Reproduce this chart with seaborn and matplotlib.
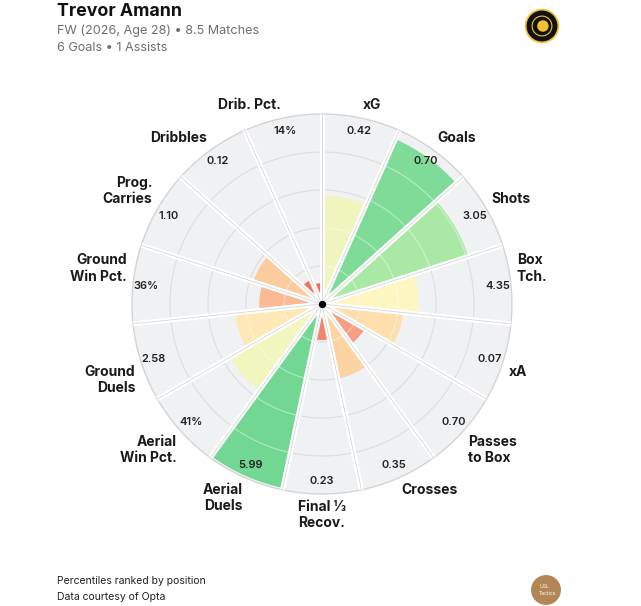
import numpy as np
import matplotlib
matplotlib.use("Agg")
import matplotlib.pyplot as plt
import seaborn as sns
from matplotlib.patches import Circle

# stats, clockwise from the top
labels = ["xG", "Goals", "Shots", "Box\nTch.", "xA", "Passes\nto Box", "Crosses",
          "Final ⅓\nRecov.", "Aerial\nDuels", "Aerial\nWin Pct.", "Ground\nDuels",
          "Ground\nWin Pct.", "Prog.\nCarries", "Dribbles", "Drib. Pct."]
values = ["0.42", "0.70", "3.05", "4.35", "0.07", "0.70", "0.35",
          "0.23", "5.99", "41%", "2.58", "36%", "1.10", "0.12", "14%"]
percentiles = [57, 95, 81, 51, 43, 26, 40, 19, 99, 56, 46, 33, 38, 14, 11]

player = "Trevor Amann"
subtitle1 = "FW (2026, Age 28) • 8.5 Matches"
subtitle2 = "6 Goals • 1 Assists"
footer1 = "Percentiles ranked by position"
footer2 = "Data courtesy of Opta"

sns.set_theme(style="white")
plt.rcParams["font.family"] = ["Inter", "DejaVu Sans"]

cmap = sns.blend_palette(["#e8473c", "#ef6b5b", "#f4876f", "#f9b08f", "#fdd3a3",
                          "#fff6c2", "#e8f5bb", "#c8efb2", "#aee9a6", "#8fe09f", "#6ed692"],
                         as_cmap=True)

n = len(labels)
step = 2 * np.pi / n
centers = np.arange(n) * step + step / 2
bounds = np.arange(n) * step

fig = plt.figure(figsize=(6.41, 6.06), dpi=100)
fig.patch.set_facecolor("white")

ax = fig.add_axes([0.2059, 0.1848, 0.5928, 0.6271], projection="polar")
ax.set_theta_offset(np.pi / 2)
ax.set_theta_direction(-1)
ax.set_ylim(0, 100)
ax.set_xticks([])
ax.set_yticks([])
ax.grid(False)
ax.set_facecolor("white")
ax.spines["polar"].set_color("#d3d4d7")
ax.spines["polar"].set_linewidth(1.0)

# grey background sectors
ax.bar(centers, [100] * n, width=step, color="#f0f1f3", linewidth=0, zorder=1)

# rings
tt = np.linspace(0, 2 * np.pi, 500)
for r in [20, 40, 60, 80]:
    ax.plot(tt, [r] * len(tt), color="#dcdde0", lw=0.8, zorder=1.5)

# percentile bars
colors = [cmap(p / 100) for p in percentiles]
ax.bar(centers, percentiles, width=step, color=colors, linewidth=0, zorder=2)

# lighter rings over the bars
for c, p in zip(centers, percentiles):
    arc = np.linspace(c - step / 2, c + step / 2, 40)
    for r in [20, 40, 60, 80]:
        if r < p:
            ax.plot(arc, [r] * len(arc), color="white", alpha=0.45, lw=0.8, zorder=2.5)

# separators
for b in bounds:
    ax.plot([b, b], [0, 100], color="white", lw=3.6, solid_capstyle="butt", zorder=3)
    ax.plot([b, b], [0, 100], color="#d5d6d9", lw=0.6, solid_capstyle="butt", zorder=3.1)

ax.scatter([0], [0], s=18, color="black", zorder=5)

for c, v in zip(centers, values):
    ax.text(c, 93, v, ha="center", va="center", fontsize=8, fontweight="semibold",
            color="#222222", zorder=6)

# category labels anchored just outside the ring
for c, lab in zip(centers, labels):
    s, co = np.sin(c), np.cos(c)
    ha = "left" if s > 0.05 else ("right" if s < -0.05 else "center")
    va = "bottom" if co > 0 else "top"
    ax.text(c, 103.2, lab, ha=ha, va=va, fontsize=10, fontweight="bold",
            color="#1a1a1a", linespacing=1.2, clip_on=False, zorder=6)

# header
fig.text(57 / 641, 1 - 11 / 606, player, fontsize=12.8, fontweight="bold",
         color="#111111", va="center", ha="left")
fig.text(57 / 641, 1 - 31 / 606, subtitle1, fontsize=9.1, color="#6e6e73",
         va="center", ha="left")
fig.text(57 / 641, 1 - 48 / 606, subtitle2, fontsize=9.1, color="#6e6e73",
         va="center", ha="left")

# footer
fig.text(57 / 641, 1 - 581 / 606, footer1, fontsize=7.5, color="#222222",
         va="center", ha="left")
fig.text(57 / 641, 1 - 597 / 606, footer2, fontsize=7.5, color="#222222",
         va="center", ha="left")

# club badge (top right)
lax = fig.add_axes([(542 - 18) / 641, 1 - (26 + 18) / 606, 36 / 641, 36 / 606])
lax.set_xlim(-1, 1)
lax.set_ylim(-1, 1)
lax.set_aspect("equal")
lax.axis("off")
lax.add_patch(Circle((0, 0), 0.92, color="#f2c230"))
lax.add_patch(Circle((0, 0), 0.82, color="#111111"))
lax.add_patch(Circle((0, 0), 0.55, fill=False, ec="#f2c230", lw=0.8))
lax.add_patch(Circle((0.05, 0.0), 0.28, color="#f2c230"))

# USL Tactics badge (bottom right)
bax = fig.add_axes([(546 - 15) / 641, 1 - (590 + 15) / 606, 30 / 641, 30 / 606])
bax.set_xlim(-1, 1)
bax.set_ylim(-1, 1)
bax.set_aspect("equal")
bax.axis("off")
bax.add_patch(Circle((0, 0), 0.95, color="#b38656"))
bax.text(-0.45, 0.0, "USL\nTactics", fontsize=3.6, color="white", ha="left",
         va="center", linespacing=1.3)

fig.savefig("out.png", dpi=100, facecolor="white")
